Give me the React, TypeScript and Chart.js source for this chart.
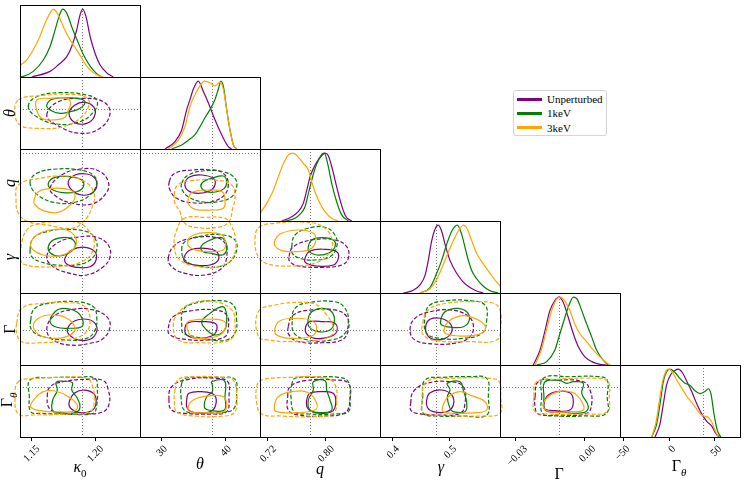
import React, { useEffect, useRef } from 'react';
import { Chart, registerables } from 'chart.js';

Chart.register(...registerables);

// ---------------- axes / parameters ----------------
const keys = ['k', 't', 'q', 'g', 'G', 'T'];
const axisMin = [1.1411, 26.6, 0.7094, 0.3778, -0.0369, -53.6];
const axisMax = [1.2353, 45.36, 0.8749, 0.5873, 0.0158, 77.3];
const truthX = [1.1896, 37.8, 0.778, 0.4756, -0.0108, 36.7];
const truthY = [1.1896, 37.0, 0.8657, 0.4817, -0.0112, 36.8];
const tickVals = [[1.15, 1.2], [30, 40], [0.72, 0.8], [0.4, 0.5], [-0.03, 0.0], [-50, 0, 50]];
const tickText = [['1.15', '1.20'], ['30', '40'], ['0.72', '0.80'], ['0.4', '0.5'], ['\u22120.03', '0.00'], ['\u221250', '0', '50']];
const seriesNames = ['Unperturbed', '1keV', '3keV'];
const seriesColors = ['#800080', '#008000', '#FFA500'];

// ---------------- 1D marginals (value, relative density) ----------------
const mK_U = [1.1503,0, 1.1647,0.083, 1.1712,0.18, 1.1778,0.30, 1.1817,0.45, 1.1856,0.69, 1.1882,0.91, 1.1903,1.0, 1.1929,0.89, 1.1961,0.60, 1.2000,0.35, 1.2039,0.18, 1.2092,0.06, 1.2143,0];
const mK_A = [1.138,0, 1.1437,0.01, 1.1515,0.083, 1.1594,0.25, 1.1647,0.45, 1.1686,0.69, 1.1712,0.86, 1.1746,1.0, 1.1778,0.94, 1.1817,0.74, 1.1869,0.50, 1.1908,0.33, 1.1961,0.16, 1.2013,0.05, 1.2052,0];
const mK_B = [1.135,0.06, 1.1411,0.17, 1.1463,0.25, 1.1515,0.40, 1.1568,0.60, 1.1607,0.79, 1.1647,0.94, 1.1672,1.0, 1.1704,0.94, 1.1751,0.74, 1.1803,0.55, 1.1856,0.40, 1.1895,0.28, 1.1935,0.16, 1.1974,0.083, 1.2026,0.02, 1.2065,0];
const mT_U = [30.51,0, 32.07,0.11, 33.12,0.28, 33.90,0.58, 34.42,0.73, 34.93,0.88, 35.71,1.0, 36.49,0.85, 37.28,0.68, 38.32,0.43, 39.37,0.21, 40.40,0.035, 40.93,0];
const mT_A = [31.55,0, 33.12,0.06, 34.15,0.13, 35.20,0.21, 35.98,0.33, 36.76,0.46, 37.54,0.58, 38.32,0.73, 38.84,0.88, 39.26,1.0, 39.68,0.90, 40.15,0.58, 40.67,0.28, 41.19,0.06, 41.71,0];
const mT_B = [31.03,0, 32.59,0.13, 33.63,0.33, 34.42,0.63, 35.20,0.80, 35.98,0.93, 36.65,1.0, 37.54,0.975, 38.32,0.93, 39.15,0.985, 39.62,0.88, 40.15,0.58, 40.67,0.28, 41.19,0.06, 41.71,0];
const mQ_U = [0.7393,0, 0.7531,0.063, 0.7622,0.137, 0.7691,0.26, 0.7738,0.45, 0.7784,0.65, 0.7829,0.77, 0.7890,0.89, 0.7945,0.96, 0.7990,1.0, 0.8036,0.96, 0.8091,0.77, 0.8152,0.50, 0.8211,0.26, 0.8276,0.07, 0.8359,0];
const mQ_A = [0.7439,0, 0.7577,0.04, 0.7646,0.10, 0.7715,0.21, 0.7760,0.40, 0.7807,0.60, 0.7852,0.77, 0.7898,0.89, 0.7953,0.99, 0.7981,1.0, 0.8028,0.84, 0.8083,0.55, 0.8152,0.28, 0.8221,0.09, 0.8312,0];
const mQ_B = [0.700,0.05, 0.7108,0.137, 0.7186,0.26, 0.7278,0.45, 0.7346,0.65, 0.7415,0.84, 0.7484,0.97, 0.7553,1.0, 0.7622,0.94, 0.7691,0.85, 0.7760,0.75, 0.7829,0.50, 0.7898,0.31, 0.7990,0.137, 0.8083,0.04, 0.8174,0];
const mG_U = [0.4185,0, 0.4359,0.04, 0.4476,0.12, 0.4564,0.26, 0.4621,0.48, 0.4681,0.77, 0.4738,0.94, 0.4796,1.0, 0.4855,0.91, 0.4913,0.72, 0.5000,0.48, 0.5117,0.29, 0.5232,0.16, 0.5349,0.08, 0.5466,0.03, 0.5582,0];
const mG_A = [0.4476,0, 0.4651,0.08, 0.4768,0.29, 0.4855,0.48, 0.4943,0.72, 0.5030,0.91, 0.5128,1.0, 0.5205,0.86, 0.5292,0.57, 0.5379,0.33, 0.5466,0.21, 0.5582,0.10, 0.5699,0.034, 0.5843,0];
const mG_B = [0.4476,0, 0.4651,0.063, 0.4768,0.20, 0.4883,0.42, 0.5000,0.66, 0.5105,0.85, 0.5175,0.95, 0.5232,1.0, 0.5302,0.94, 0.5379,0.77, 0.5466,0.58, 0.5582,0.43, 0.5699,0.29, 0.5815,0.16, 0.5902,0.08, 0.599,0.02, 0.61,0];
const mGG_U = [-0.0223,0, -0.0193,0.22, -0.0171,0.51, -0.0150,0.80, -0.0128,0.95, -0.0110,1.0, -0.0091,0.92, -0.0069,0.70, -0.0047,0.46, -0.0025,0.27, 0.0004,0.12, 0.0034,0.05, 0.0070,0.01, 0.0099,0];
const mGG_A = [-0.0208,0, -0.0164,0.05, -0.0128,0.22, -0.0106,0.46, -0.0084,0.70, -0.0065,0.89, -0.0047,1.0, -0.0030,0.97, -0.0010,0.80, 0.0012,0.60, 0.0034,0.41, 0.0055,0.22, 0.0084,0.07, 0.0106,0];
const mGG_B = [-0.0215,0, -0.0186,0.24, -0.0164,0.53, -0.0142,0.80, -0.0120,0.97, -0.0103,1.0, -0.0084,0.94, -0.0062,0.80, -0.0040,0.60, -0.0018,0.46, 0.0012,0.34, 0.0041,0.22, 0.0070,0.12, 0.0099,0.034, 0.0117,0];
const mGT_U = [-15.4,0, -10.0,0.19, -6.4,0.48, -2.7,0.77, 1.7,0.92, 6.4,0.98, 10.0,1.0, 14.4,0.95, 19.2,0.82, 24.6,0.67, 30.1,0.49, 35.5,0.34, 41.0,0.23, 46.5,0.16, 51.1,0.05, 54.7,0];
const mGT_A = [-19.0,0, -13.6,0.19, -10.0,0.48, -6.4,0.81, -2.7,0.96, 0.9,1.0, 6.4,0.95, 11.9,0.86, 17.3,0.79, 22.8,0.76, 28.2,0.68, 33.7,0.64, 39.1,0.67, 42.7,0.71, 45.7,0.63, 48.9,0.34, 52.5,0.10, 56.3,0];
const mGT_B = [-19.0,0, -14.3,0.22, -10.7,0.53, -7.0,0.83, -3.4,0.97, -0.9,1.0, 2.8,0.97, 8.3,0.84, 13.7,0.72, 19.2,0.60, 24.6,0.51, 30.1,0.41, 33.7,0.34, 38.0,0.31, 42.7,0.29, 46.5,0.22, 50.0,0.10, 53.6,0];

// ---------------- 2D contours (x, y pairs); o = outer (dashed), i = inner (solid) ----------------
// row theta / col kappa0
const c_tk_Uo = [1.1621,35.46, 1.1712,38.92, 1.1908,39.81, 1.2065,38.92, 1.2118,35.90, 1.2039,31.99, 1.1882,30.69, 1.1699,32.85];
const c_tk_Ui = [1.1796,35.90, 1.1843,38.06, 1.1921,38.77, 1.1992,37.46, 1.1994,35.01, 1.1935,33.29, 1.1843,33.45];
const c_tk_Ao = [1.1476,37.62, 1.1542,40.23, 1.1725,41.27, 1.1935,40.67, 1.2013,39.37, 1.2000,36.76, 1.1882,33.71, 1.1699,33.11, 1.1542,35.01];
const c_tk_Ai = [1.1621,38.06, 1.1672,39.63, 1.1856,39.81, 1.1921,38.92, 1.1882,37.20, 1.1804,36.32, 1.1725,35.90, 1.1647,36.76];
const c_tk_Bo = [1.1398,39.37, 1.1568,40.49, 1.1778,40.85, 1.1921,40.23, 1.1955,38.51, 1.1895,35.01, 1.1751,32.41, 1.1542,31.99, 1.1411,32.85, 1.1372,35.90];
const c_tk_Bi = [1.1542,39.37, 1.1647,39.81, 1.1778,39.81, 1.1809,38.51, 1.1790,36.76, 1.1764,34.87, 1.1672,34.17, 1.1581,34.60, 1.1542,36.76];
// row q / col kappa0
const c_qk_Uo = [1.1647,0.7845, 1.1738,0.8151, 1.1882,0.8289, 1.2026,0.8250, 1.2104,0.7997, 1.2086,0.7731, 1.1974,0.7485, 1.1804,0.7515, 1.1699,0.7652];
const c_qk_Ui = [1.1790,0.7997, 1.1843,0.8151, 1.1935,0.8174, 1.2000,0.8075, 1.2013,0.7882, 1.1974,0.7731, 1.1895,0.7691, 1.1817,0.7806];
const c_qk_Ao = [1.1490,0.7960, 1.1542,0.8190, 1.1699,0.8289, 1.1882,0.8266, 1.1986,0.8151, 1.2013,0.7960, 1.1961,0.7691, 1.1856,0.7537, 1.1725,0.7501, 1.1568,0.7652];
const c_qk_Ai = [1.1633,0.7960, 1.1686,0.8098, 1.1804,0.8112, 1.1895,0.8036, 1.1908,0.7882, 1.1856,0.7767, 1.1751,0.7744, 1.1660,0.7823];
const c_qk_Bo = [1.1398,0.7921, 1.1568,0.8075, 1.1778,0.8128, 1.1921,0.7997, 1.1992,0.7731, 1.1974,0.7386, 1.1908,0.7078, 1.1817,0.6926, 1.1621,0.7002, 1.1476,0.7078, 1.1398,0.7271, 1.1380,0.7576];
const c_qk_Bi = [1.1521,0.7576, 1.1555,0.7767, 1.1672,0.7845, 1.1804,0.7806, 1.1843,0.7652, 1.1790,0.7422, 1.1699,0.7285, 1.1594,0.7331, 1.1529,0.7462];
// row gamma / col kappa0
const c_gk_Uo = [1.1621,0.4834, 1.1699,0.5224, 1.1856,0.5399, 1.2013,0.5399, 1.2104,0.5175, 1.2118,0.4834, 1.2065,0.4543, 1.1935,0.4302, 1.1804,0.4351, 1.1672,0.4543];
const c_gk_Ui = [1.1764,0.4788, 1.1817,0.5029, 1.1921,0.5108, 1.1998,0.4980, 1.2008,0.4738, 1.1961,0.4543, 1.1856,0.4526, 1.1778,0.4622];
const c_gk_Ao = [1.1490,0.5029, 1.1515,0.5370, 1.1621,0.5562, 1.1778,0.5631, 1.1935,0.5562, 1.2000,0.5370, 1.2013,0.5029, 1.1961,0.4738, 1.1856,0.4593, 1.1699,0.4593, 1.1568,0.4689, 1.1503,0.4834];
const c_gk_Ai = [1.1633,0.5125, 1.1672,0.5320, 1.1764,0.5399, 1.1829,0.5320, 1.1843,0.5125, 1.1790,0.4933, 1.1712,0.4855, 1.1647,0.4951];
const c_gk_Bo = [1.1416,0.4738, 1.1424,0.5224, 1.1464,0.5611, 1.1542,0.5786, 1.1699,0.5853, 1.1869,0.5824, 1.1947,0.5611, 1.1992,0.5320, 1.1974,0.4933, 1.1895,0.4689, 1.1751,0.4564, 1.1542,0.4543, 1.1437,0.4622];
const c_gk_Bi = [1.1495,0.5224, 1.1542,0.5466, 1.1647,0.5611, 1.1778,0.5611, 1.1843,0.5416, 1.1851,0.5175, 1.1804,0.4980, 1.1712,0.4855, 1.1594,0.4884, 1.1515,0.5029];
// row Gamma / col kappa0
const c_Gk_Uo = [1.1621,-0.0113, 1.1672,-0.0015, 1.1829,0.0039, 1.1986,0.0034, 1.2092,-0.0015, 1.2118,-0.0089, 1.2065,-0.0174, 1.1961,-0.0210, 1.1804,-0.0223, 1.1672,-0.0186];
const c_Gk_Ui = [1.1785,-0.0100, 1.1843,-0.0045, 1.1935,-0.0034, 1.2000,-0.0064, 1.2013,-0.0125, 1.1961,-0.0181, 1.1869,-0.0186, 1.1798,-0.0149];
const c_Gk_Ao = [1.1495,-0.0040, 1.1529,0.0046, 1.1672,0.0087, 1.1856,0.0094, 1.1986,0.0058, 1.2013,-0.0015, 1.2000,-0.0113, 1.1935,-0.0174, 1.1778,-0.0186, 1.1594,-0.0162, 1.1503,-0.0113];
const c_Gk_Ai = [1.1647,-0.0052, 1.1686,0.0021, 1.1751,0.0046, 1.1856,0.0021, 1.1903,-0.0040, 1.1895,-0.0089, 1.1804,-0.0100, 1.1699,-0.0093];
const c_Gk_Bo = [1.1385,-0.0064, 1.1424,0.0046, 1.1594,0.0083, 1.1804,0.0087, 1.1921,0.0058, 1.1961,-0.0040, 1.1921,-0.0137, 1.1778,-0.0186, 1.1568,-0.0206, 1.1424,-0.0198, 1.1385,-0.0137];
const c_Gk_Bi = [1.1515,-0.0089, 1.1555,-0.0027, 1.1647,-0.0003, 1.1778,-0.0027, 1.1843,-0.0100, 1.1804,-0.0149, 1.1699,-0.0174, 1.1581,-0.0157];
// row Gamma_theta / col kappa0
const c_Tk_Uo = [1.1625,19.7, 1.1647,37.8, 1.1751,46.9, 1.1935,51.3, 1.2065,48.8, 1.2104,31.8, 1.2112,7.7, 1.2065,-7.6, 1.1908,-11.8, 1.1725,-10.5, 1.1641,-1.4];
const c_Tk_Ui = [1.1798,10.6, 1.1843,26.9, 1.1921,31.8, 1.1992,24.6, 1.2008,7.7, 1.1974,-5.8, 1.1882,-9.4, 1.1809,-1.4];
const c_Tk_Ao = [1.1490,50.0, 1.1647,54.2, 1.1856,54.9, 1.2000,53.1, 1.2018,31.8, 1.2013,4.6, 1.1986,-10.5, 1.1778,-11.8, 1.1568,-10.5, 1.1495,-7.6, 1.1484,19.7];
const c_Tk_Ai = [1.1694,45.8, 1.1756,47.7, 1.1822,45.1, 1.1817,31.8, 1.1861,16.8, 1.1882,0.4, 1.1843,-9.4, 1.1751,-9.4, 1.1668,-5.8, 1.1668,13.7, 1.1704,31.8];
const c_Tk_Bo = [1.1398,46.9, 1.1515,52.4, 1.1725,54.9, 1.1935,53.1, 1.1982,37.8, 1.1992,7.7, 1.1961,-7.6, 1.1778,-11.8, 1.1515,-13.6, 1.1398,-11.8, 1.1372,19.7];
const c_Tk_Bi = [1.1495,1.5, 1.1529,16.8, 1.1594,28.8, 1.1686,30.0, 1.1790,19.7, 1.1861,4.6, 1.1843,-5.8, 1.1725,-8.1, 1.1568,-5.8];
// row q / col theta
const c_qt_Uo = [31.18,0.7997, 32.07,0.8190, 34.68,0.8266, 37.81,0.8266, 39.62,0.8190, 40.40,0.7960, 39.78,0.7691, 37.81,0.7537, 34.68,0.7515, 32.34,0.7616, 31.29,0.7806];
const c_qt_Ui = [33.63,0.7960, 34.42,0.8112, 36.24,0.8151, 38.06,0.8075, 38.32,0.7921, 37.54,0.7790, 35.71,0.7731, 34.15,0.7790];
const c_qt_Ao = [33.12,0.7960, 34.15,0.8151, 36.76,0.8250, 39.62,0.8227, 41.45,0.8075, 41.71,0.7882, 40.93,0.7652, 38.84,0.7537, 36.24,0.7537, 34.15,0.7652, 33.21,0.7806];
const c_qt_Ai = [36.13,0.7882, 36.49,0.7997, 37.81,0.8075, 39.62,0.8128, 40.15,0.7997, 39.78,0.7845, 38.59,0.7767, 37.03,0.7767];
const c_qt_Bo = [31.96,0.7691, 32.49,0.7921, 34.68,0.8020, 38.32,0.8036, 40.93,0.7921, 41.45,0.7652, 41.03,0.7347, 40.51,0.7078, 38.84,0.6949, 35.20,0.6949, 33.52,0.7055, 32.85,0.7308, 32.07,0.7501];
const c_qt_Bi = [34.15,0.7616, 34.93,0.7767, 37.28,0.7806, 39.46,0.7767, 39.89,0.7576, 39.62,0.7386, 37.81,0.7347, 35.20,0.7363, 34.26,0.7462];
// row gamma / col theta
const c_gt_Uo = [31.02,0.4788, 32.07,0.5175, 34.68,0.5370, 38.32,0.5399, 39.89,0.5224, 40.15,0.4834, 39.37,0.4497, 36.76,0.4302, 33.63,0.4351, 31.55,0.4543];
const c_gt_Ui = [33.52,0.4834, 34.42,0.5029, 36.76,0.5079, 38.59,0.4980, 38.84,0.4738, 37.54,0.4593, 35.20,0.4593, 33.63,0.4689];
const c_gt_Ao = [33.12,0.5029, 33.63,0.5271, 36.24,0.5437, 39.62,0.5466, 41.45,0.5320, 41.71,0.5029, 40.67,0.4689, 38.84,0.4543, 35.71,0.4564, 33.63,0.4738];
const c_gt_Ai = [36.13,0.5125, 37.03,0.5271, 39.10,0.5399, 39.99,0.5271, 40.15,0.5029, 39.46,0.4884, 37.81,0.4933, 36.49,0.4980];
const c_gt_Bo = [33.52,0.5952, 32.34,0.5611, 31.96,0.5125, 32.85,0.4738, 35.71,0.4543, 39.37,0.4564, 41.18,0.4834, 41.56,0.5320, 40.82,0.5757, 39.89,0.5952, 36.76,0.5981];
const c_gt_Bi = [34.15,0.5320, 34.93,0.5466, 37.03,0.5533, 39.37,0.5466, 39.99,0.5224, 39.62,0.5029, 37.81,0.4980, 35.71,0.5009, 34.26,0.5125];
// row Gamma / col theta
const c_Gt_Uo = [31.02,-0.0100, 31.80,-0.0015, 34.68,0.0028, 38.32,0.0034, 40.15,-0.0003, 40.40,-0.0100, 39.89,-0.0162, 37.28,-0.0186, 33.63,-0.0181, 31.29,-0.0149];
const c_Gt_Ui = [33.63,-0.0100, 34.15,-0.0059, 36.24,-0.0052, 38.32,-0.0064, 38.59,-0.0113, 37.81,-0.0157, 35.71,-0.0174, 33.90,-0.0149];
const c_Gt_Ao = [33.12,-0.0089, 33.37,0.0034, 35.20,0.0083, 39.10,0.0102, 41.18,0.0070, 41.71,-0.0040, 41.45,-0.0137, 40.15,-0.0186, 37.81,-0.0186, 35.20,-0.0162, 33.37,-0.0137];
const c_Gt_Ai = [36.24,-0.0052, 37.54,0.0009, 39.37,0.0058, 39.99,0.0034, 40.15,-0.0064, 39.62,-0.0125, 38.32,-0.0149, 37.03,-0.0113];
const c_Gt_Bo = [31.80,-0.0089, 32.34,-0.0003, 34.68,0.0083, 38.32,0.0094, 40.93,0.0034, 41.45,-0.0064, 41.18,-0.0162, 39.89,-0.0198, 36.24,-0.0206, 32.59,-0.0186];
const c_Gt_Bi = [33.90,-0.0076, 34.42,-0.0045, 37.28,-0.0034, 39.62,-0.0045, 39.99,-0.0089, 39.10,-0.0149, 36.76,-0.0174, 34.68,-0.0162];
// row Gamma_theta / col theta
const c_Tt_Uo = [31.13,13.7, 31.55,37.8, 34.15,51.3, 38.32,53.1, 40.31,46.9, 40.51,19.7, 40.15,-7.6, 37.81,-11.8, 33.63,-10.5, 31.55,-4.5];
const c_Tt_Ui = [33.90,13.7, 34.26,25.9, 36.24,28.8, 38.21,22.8, 38.43,4.6, 37.54,-7.6, 35.20,-9.4, 34.00,-1.4];
const c_Tt_Ao = [33.12,44.0, 33.63,53.1, 36.24,54.9, 39.37,54.9, 41.45,51.3, 41.71,25.9, 41.45,1.5, 40.40,-7.6, 36.24,-9.4, 33.63,-5.8, 33.01,19.7];
const c_Tt_Ai = [37.81,46.9, 39.78,48.8, 39.89,19.7, 39.78,-4.5, 37.28,-4.5, 36.65,1.5, 37.03,19.7, 37.90,28.8, 37.90,40.9];
const c_Tt_Bo = [32.07,31.8, 32.59,51.3, 35.20,56.0, 39.37,54.9, 41.18,50.0, 41.71,19.7, 41.45,-7.6, 39.89,-15.4, 35.20,-15.4, 32.34,-7.6, 31.96,13.7];
const c_Tt_Bi = [34.15,1.5, 34.93,13.7, 37.28,21.0, 39.62,19.7, 40.15,4.6, 39.62,-7.6, 36.76,-9.4, 34.42,-7.6];
// row gamma / col q
const c_gq_Uo = [0.7494,0.4834, 0.7553,0.5125, 0.7807,0.5320, 0.8128,0.5320, 0.8290,0.5125, 0.8312,0.4788, 0.8221,0.4593, 0.7945,0.4526, 0.7622,0.4564, 0.7508,0.4689];
const c_gq_Ui = [0.7715,0.4788, 0.7784,0.5000, 0.7990,0.5049, 0.8152,0.4980, 0.8174,0.4788, 0.8105,0.4593, 0.7876,0.4564, 0.7724,0.4660];
const c_gq_Ao = [0.7531,0.5125, 0.7577,0.5466, 0.7760,0.5661, 0.7990,0.5690, 0.8128,0.5466, 0.8152,0.5125, 0.8059,0.4834, 0.7852,0.4738, 0.7646,0.4788, 0.7539,0.4933];
const c_gq_Ai = [0.7760,0.5125, 0.7807,0.5320, 0.7945,0.5388, 0.8105,0.5320, 0.8128,0.5125, 0.8036,0.4933, 0.7876,0.4884, 0.7770,0.4980];
const c_gq_Bo = [0.7080,0.5690, 0.7301,0.5806, 0.7669,0.5844, 0.7945,0.5727, 0.8083,0.5370, 0.8059,0.4980, 0.7876,0.4660, 0.7531,0.4564, 0.7208,0.4622, 0.7071,0.4834, 0.7025,0.5320];
const c_gq_Bi = [0.7301,0.5320, 0.7393,0.5515, 0.7622,0.5611, 0.7829,0.5515, 0.7862,0.5271, 0.7784,0.5049, 0.7577,0.4980, 0.7393,0.5009, 0.7301,0.5146];
// row Gamma / col q
const c_Gq_Uo = [0.7484,-0.0089, 0.7553,-0.0003, 0.7807,0.0034, 0.8128,0.0034, 0.8290,-0.0015, 0.8312,-0.0113, 0.8221,-0.0186, 0.7945,-0.0206, 0.7622,-0.0198, 0.7494,-0.0149];
const c_Gq_Ui = [0.7724,-0.0089, 0.7784,-0.0052, 0.7967,-0.0052, 0.8128,-0.0064, 0.8152,-0.0125, 0.8059,-0.0162, 0.7852,-0.0174, 0.7738,-0.0142];
const c_Gq_Ao = [0.7539,-0.0040, 0.7577,0.0046, 0.7760,0.0087, 0.8128,0.0094, 0.8266,0.0046, 0.8312,-0.0040, 0.8266,-0.0137, 0.8083,-0.0186, 0.7760,-0.0186, 0.7567,-0.0137];
const c_Gq_Ai = [0.7760,-0.0027, 0.7807,0.0021, 0.7945,0.0046, 0.8083,0.0021, 0.8119,-0.0052, 0.8059,-0.0113, 0.7898,-0.0125, 0.7770,-0.0089];
const c_Gq_Bo = [0.7071,0.0021, 0.7301,0.0070, 0.7669,0.0090, 0.7876,0.0070, 0.8014,-0.0003, 0.8105,-0.0089, 0.8083,-0.0149, 0.7898,-0.0186, 0.7531,-0.0198, 0.7208,-0.0186, 0.7071,-0.0162];
const c_Gq_Bi = [0.7301,-0.0100, 0.7370,-0.0045, 0.7577,-0.0027, 0.7807,-0.0045, 0.7876,-0.0100, 0.7807,-0.0157, 0.7531,-0.0174, 0.7324,-0.0149];
// row Gamma_theta / col q
const c_Tq_Uo = [0.7476,19.7, 0.7508,37.8, 0.7715,48.8, 0.8128,50.0, 0.8312,44.0, 0.8335,13.7, 0.8266,-9.4, 0.7945,-15.4, 0.7622,-13.6, 0.7484,-4.5];
const c_Tq_Ui = [0.7738,13.7, 0.7784,25.9, 0.7945,28.8, 0.8105,25.9, 0.8138,7.7, 0.8083,-7.6, 0.7852,-9.4, 0.7752,-1.4];
const c_Tq_Ao = [0.7531,40.9, 0.7577,53.1, 0.7807,54.9, 0.8174,54.9, 0.8312,46.9, 0.8335,13.7, 0.8312,-7.6, 0.8128,-11.8, 0.7760,-11.8, 0.7567,-7.6, 0.7521,19.7];
const c_Tq_Ai = [0.7829,46.9, 0.7990,48.8, 0.8014,31.8, 0.8059,13.7, 0.8083,-4.5, 0.7945,-9.4, 0.7784,-4.5, 0.7760,13.7, 0.7829,31.8];
const c_Tq_Bo = [0.7049,37.8, 0.7117,50.0, 0.7531,54.9, 0.7945,54.9, 0.8119,44.0, 0.8152,13.7, 0.8105,-10.5, 0.7852,-16.7, 0.7393,-15.4, 0.7117,-11.8, 0.7049,7.7];
const c_Tq_Bi = [0.7291,1.5, 0.7346,19.7, 0.7531,28.8, 0.7760,26.9, 0.7876,7.7, 0.7852,-4.5, 0.7577,-9.4, 0.7324,-7.6];
// row Gamma / col gamma
const c_Gg_Uo = [0.4302,-0.0113, 0.4389,-0.0027, 0.4651,0.0021, 0.5000,0.0034, 0.5292,-0.0003, 0.5407,-0.0076, 0.5349,-0.0162, 0.5117,-0.0206, 0.4709,-0.0215, 0.4389,-0.0186];
const c_Gg_Ui = [0.4581,-0.0076, 0.4651,-0.0034, 0.4826,-0.0027, 0.5000,-0.0064, 0.5030,-0.0125, 0.4913,-0.0174, 0.4709,-0.0181, 0.4593,-0.0142];
const c_Gg_Ao = [0.4564,-0.0015, 0.4651,0.0070, 0.4943,0.0102, 0.5349,0.0102, 0.5611,0.0070, 0.5641,-0.0040, 0.5554,-0.0137, 0.5232,-0.0174, 0.4826,-0.0174, 0.4593,-0.0137];
const c_Gg_Ai = [0.4838,-0.0040, 0.4913,0.0021, 0.5117,0.0046, 0.5292,0.0021, 0.5337,-0.0040, 0.5232,-0.0089, 0.5030,-0.0093, 0.4855,-0.0076];
const c_Gg_Bo = [0.4524,-0.0064, 0.4621,0.0034, 0.4943,0.0083, 0.5466,0.0094, 0.5756,0.0083, 0.5873,0.0034, 0.5885,-0.0089, 0.5815,-0.0186, 0.5349,-0.0198, 0.4768,-0.0191, 0.4534,-0.0149];
const c_Gg_Bi = [0.4895,-0.0113, 0.4971,-0.0052, 0.5175,-0.0010, 0.5349,-0.0015, 0.5582,-0.0064, 0.5611,-0.0113, 0.5466,-0.0149, 0.5175,-0.0157, 0.4943,-0.0142];
// row Gamma_theta / col gamma
const c_Tg_Uo = [0.4314,7.7, 0.4359,28.8, 0.4593,44.0, 0.5000,46.9, 0.5232,37.8, 0.5262,7.7, 0.5175,-10.5, 0.4768,-13.6, 0.4419,-10.5, 0.4314,-4.5];
const c_Tg_Ui = [0.4593,13.7, 0.4651,26.9, 0.4855,31.8, 0.5030,22.8, 0.5058,4.6, 0.4943,-7.6, 0.4709,-7.6, 0.4604,0.4];
const c_Tg_Ao = [0.4524,19.7, 0.4564,50.0, 0.4883,54.9, 0.5349,56.0, 0.5641,53.1, 0.5669,19.7, 0.5641,-13.6, 0.5232,-15.4, 0.4768,-15.4, 0.4534,-10.5];
const c_Tg_Ai = [0.4953,44.0, 0.5175,46.9, 0.5232,31.8, 0.5292,7.7, 0.5262,-7.6, 0.5058,-7.6, 0.5000,-1.6, 0.4953,19.7, 0.5000,31.8];
const c_Tg_Bo = [0.4506,7.7, 0.4593,46.9, 0.5058,53.1, 0.5699,53.1, 0.5861,46.9, 0.5885,19.7, 0.5873,-10.5, 0.5524,-15.4, 0.4883,-14.1, 0.4534,-9.4];
const c_Tg_Bi = [0.4873,1.5, 0.4971,19.7, 0.5175,28.8, 0.5349,22.8, 0.5611,10.6, 0.5641,-4.5, 0.5466,-9.4, 0.5058,-10.5, 0.4883,-7.6];
// row Gamma_theta / col Gamma
const c_TG_Uo = [-0.0215,19.7, -0.0201,46.9, -0.0120,50.0, -0.0003,46.9, 0.0026,31.8, 0.0034,7.7, 0.0012,-10.5, -0.0106,-13.6, -0.0201,-11.8, -0.0215,1.5];
const c_TG_Ui = [-0.0176,4.6, -0.0164,19.7, -0.0120,28.8, -0.0062,26.9, -0.0047,10.6, -0.0062,-4.5, -0.0128,-5.8, -0.0171,-3.2];
const c_TG_Ao = [-0.0186,19.7, -0.0179,53.1, -0.0062,56.0, 0.0070,56.0, 0.0102,50.0, 0.0102,19.7, 0.0099,-10.5, -0.0003,-15.4, -0.0120,-15.4, -0.0182,-10.5];
const c_TG_Ai = [-0.0176,19.7, -0.0171,46.9, -0.0106,48.8, -0.0076,44.0, -0.0047,46.9, -0.0003,44.0, -0.0010,25.9, 0.0019,1.5, -0.0003,-9.4, -0.0106,-8.1, -0.0171,-4.5];
const c_TG_Bo = [-0.0220,19.7, -0.0208,46.9, -0.0120,51.3, 0.0055,53.1, 0.0106,46.9, 0.0111,19.7, 0.0102,-7.6, -0.0003,-11.8, -0.0150,-11.8, -0.0215,-7.6];
const c_TG_Bi = [-0.0179,1.5, -0.0164,16.8, -0.0113,28.8, -0.0047,26.9, -0.0010,10.6, -0.0003,-4.5, -0.0062,-7.6, -0.0150,-7.6];

// ---------------- lookup tables built from the arrays above ----------------
const marginals: Record<string, number[][]> = {
  k: [mK_U, mK_A, mK_B], t: [mT_U, mT_A, mT_B], q: [mQ_U, mQ_A, mQ_B],
  g: [mG_U, mG_A, mG_B], G: [mGG_U, mGG_A, mGG_B], T: [mGT_U, mGT_A, mGT_B],
};
const contours: Record<string, number[][]> = {
  tk: [c_tk_Uo, c_tk_Ui, c_tk_Ao, c_tk_Ai, c_tk_Bo, c_tk_Bi],
  qk: [c_qk_Uo, c_qk_Ui, c_qk_Ao, c_qk_Ai, c_qk_Bo, c_qk_Bi],
  gk: [c_gk_Uo, c_gk_Ui, c_gk_Ao, c_gk_Ai, c_gk_Bo, c_gk_Bi],
  Gk: [c_Gk_Uo, c_Gk_Ui, c_Gk_Ao, c_Gk_Ai, c_Gk_Bo, c_Gk_Bi],
  Tk: [c_Tk_Uo, c_Tk_Ui, c_Tk_Ao, c_Tk_Ai, c_Tk_Bo, c_Tk_Bi],
  qt: [c_qt_Uo, c_qt_Ui, c_qt_Ao, c_qt_Ai, c_qt_Bo, c_qt_Bi],
  gt: [c_gt_Uo, c_gt_Ui, c_gt_Ao, c_gt_Ai, c_gt_Bo, c_gt_Bi],
  Gt: [c_Gt_Uo, c_Gt_Ui, c_Gt_Ao, c_Gt_Ai, c_Gt_Bo, c_Gt_Bi],
  Tt: [c_Tt_Uo, c_Tt_Ui, c_Tt_Ao, c_Tt_Ai, c_Tt_Bo, c_Tt_Bi],
  gq: [c_gq_Uo, c_gq_Ui, c_gq_Ao, c_gq_Ai, c_gq_Bo, c_gq_Bi],
  Gq: [c_Gq_Uo, c_Gq_Ui, c_Gq_Ao, c_Gq_Ai, c_Gq_Bo, c_Gq_Bi],
  Tq: [c_Tq_Uo, c_Tq_Ui, c_Tq_Ao, c_Tq_Ai, c_Tq_Bo, c_Tq_Bi],
  Gg: [c_Gg_Uo, c_Gg_Ui, c_Gg_Ao, c_Gg_Ai, c_Gg_Bo, c_Gg_Bi],
  Tg: [c_Tg_Uo, c_Tg_Ui, c_Tg_Ao, c_Tg_Ai, c_Tg_Bo, c_Tg_Bi],
  TG: [c_TG_Uo, c_TG_Ui, c_TG_Ao, c_TG_Ai, c_TG_Bo, c_TG_Bi],
};

// ---------------- layout (page pixels) ----------------
const LEFT = 20, TOP = 5, PW = 120, PH = 72, M = 14, AXH = 42;
const labelOffsets = [7, 4, 7, 5, 10, 5];
const SERIF = "'Liberation Serif', 'DejaVu Serif', serif";

function toPts(a: number[]) {
  const out: { x: number; y: number }[] = [];
  for (let i = 0; i < a.length; i += 2) out.push({ x: a[i], y: a[i + 1] });
  return out;
}

const loopPlugin = {
  id: 'closedLoops',
  beforeDatasetsDraw(chart: any) {
    chart.data.datasets.forEach((ds: any, i: number) => {
      if (!ds.loop) return;
      const line = chart.getDatasetMeta(i).dataset;
      if (!line) return;
      line._loop = true;
      line._fullLoop = true;
      line._segments = undefined;
      line._path = undefined;
      line._pointsUpdated = false;
      line.updateControlPoints(chart.chartArea, 'x');
    });
  },
};

const framePlugin = {
  id: 'panelFrame',
  afterDatasetsDraw(chart: any) {
    const { ctx, chartArea: a } = chart;
    ctx.save();
    ctx.strokeStyle = '#000';
    ctx.lineWidth = 1;
    ctx.setLineDash([]);
    ctx.strokeRect(Math.round(a.left) + 0.5, Math.round(a.top) + 0.5, Math.round(a.right - a.left), Math.round(a.bottom - a.top));
    ctx.restore();
  },
};

function makeTruthPlugin(r: number, c: number) {
  return {
    id: 'truthLines',
    beforeDatasetsDraw(chart: any) {
      const { ctx, chartArea: a, scales } = chart;
      ctx.save();
      ctx.strokeStyle = '#7a7a7a';
      ctx.lineWidth = 1;
      ctx.setLineDash([1, 2]);
      const x = Math.round(scales.x.getPixelForValue(truthX[c])) + 0.5;
      ctx.beginPath();
      ctx.moveTo(x, a.top);
      ctx.lineTo(x, a.bottom);
      ctx.stroke();
      if (r !== c) {
        const y = Math.round(scales.y.getPixelForValue(truthY[r])) + 0.5;
        ctx.beginPath();
        ctx.moveTo(a.left, y);
        ctx.lineTo(a.right, y);
        ctx.stroke();
      }
      ctx.restore();
    },
  };
}

function buildDatasets(r: number, c: number) {
  if (r === c) {
    return marginals[keys[c]].map((arr, s) => ({
      data: toPts(arr),
      borderColor: seriesColors[s],
      borderWidth: 1.2,
      pointRadius: 0,
      cubicInterpolationMode: 'monotone',
      fill: false,
      order: 2 - s,
    }));
  }
  return contours[keys[r] + keys[c]].map((arr, j) => {
    const s = Math.floor(j / 2);
    const outer = j % 2 === 0;
    return {
      data: toPts(arr),
      borderColor: seriesColors[s],
      borderWidth: 1.2,
      borderDash: outer ? [4, 2] : [],
      pointRadius: 0,
      tension: 0.42,
      capBezierPoints: false,
      fill: false,
      clip: false,
      loop: true,
      order: 2 - s,
    };
  });
}

const panels: { r: number; c: number }[] = [];
for (let r = 0; r < 6; r++) for (let c = 0; c <= r; c++) panels.push({ r, c });

function canvasHeight(r: number) {
  return PH + M + (r === 5 ? AXH : M);
}

export default function App() {
  const refs = useRef<(HTMLCanvasElement | null)[]>([]);

  useEffect(() => {
    const charts = panels.map(({ r, c }, i) => {
      const canvas = refs.current[i] as HTMLCanvasElement;
      const bottom = r === 5;
      const cfg: any = {
        type: 'line',
        data: { datasets: buildDatasets(r, c) },
        options: {
          animation: false,
          responsive: false,
          maintainAspectRatio: false,
          events: [],
          layout: { padding: { left: M, right: M, top: M, bottom: bottom ? 0 : M } },
          plugins: { legend: { display: false }, tooltip: { enabled: false } },
          scales: {
            x: {
              type: 'linear',
              min: axisMin[c],
              max: axisMax[c],
              display: bottom,
              position: 'bottom',
              offset: false,
              border: { display: false },
              grid: { display: true, drawOnChartArea: false, drawTicks: true, tickLength: 4, color: '#000', lineWidth: 1 },
              afterBuildTicks: (axis: any) => {
                axis.ticks = tickVals[c].map((v) => ({ value: v }));
              },
              afterFit: (axis: any) => {
                if (bottom) axis.height = AXH;
              },
              ticks: {
                autoSkip: false,
                minRotation: 45,
                maxRotation: 45,
                padding: 2,
                labelOffset: labelOffsets[c],
                color: '#000',
                font: { family: SERIF, size: 10.5 },
                callback: (_v: any, idx: number) => tickText[c][idx],
              },
            },
            y: {
              type: 'linear',
              min: r === c ? 0 : axisMin[r],
              max: r === c ? 1.06 : axisMax[r],
              display: false,
            },
          },
        },
        plugins: [loopPlugin, makeTruthPlugin(r, c), framePlugin],
      };
      return new Chart(canvas, cfg);
    });
    return () => charts.forEach((ch) => ch.destroy());
  }, []);

  const xLabels: { html: React.ReactNode; x: number; y: number }[] = [
    { html: <span><i>κ</i><sub style={{ fontSize: 11, fontStyle: 'normal' }}>0</sub></span>, x: 80, y: 470 },
    { html: <i>θ</i>, x: 200, y: 464 },
    { html: <i>q</i>, x: 320, y: 469 },
    { html: <i>γ</i>, x: 441, y: 467 },
    { html: <span>Γ</span>, x: 559, y: 474 },
    { html: <span>Γ<sub style={{ fontSize: 11, fontStyle: 'italic' }}>θ</sub></span>, x: 679, y: 469 },
  ];
  const yLabels: { html: React.ReactNode; x: number; y: number }[] = [
    { html: <i>θ</i>, x: 10, y: 113 },
    { html: <i>q</i>, x: 10, y: 183 },
    { html: <i>γ</i>, x: 10, y: 257 },
    { html: <span>Γ</span>, x: 10, y: 329 },
    { html: <span>Γ<sub style={{ fontSize: 11, fontStyle: 'italic' }}>θ</sub></span>, x: 10, y: 400 },
  ];

  const labelStyle = (x: number, y: number, rot: boolean): React.CSSProperties => ({
    position: 'absolute',
    left: x,
    top: y,
    transform: rot ? 'translate(-50%, -50%) rotate(-90deg)' : 'translate(-50%, -50%)',
    fontFamily: SERIF,
    fontSize: 16,
    lineHeight: '16px',
    color: '#000',
    whiteSpace: 'nowrap',
  });

  return (
    <div style={{ position: 'absolute', left: 0, top: 0, width: 747, height: 489, background: '#fff', overflow: 'hidden' }}>
      {panels.map(({ r, c }, i) => (
        <canvas
          key={`${r}-${c}`}
          ref={(el) => {
            refs.current[i] = el;
          }}
          width={PW + 2 * M}
          height={canvasHeight(r)}
          style={{ position: 'absolute', left: LEFT + c * PW - M, top: TOP + r * PH - M, width: PW + 2 * M, height: canvasHeight(r) }}
        />
      ))}
      {xLabels.map((l, i) => (
        <div key={`xl${i}`} style={labelStyle(l.x, l.y, false)}>{l.html}</div>
      ))}
      {yLabels.map((l, i) => (
        <div key={`yl${i}`} style={labelStyle(l.x, l.y, true)}>{l.html}</div>
      ))}
      <div
        style={{
          position: 'absolute',
          left: 513,
          top: 90,
          width: 94,
          height: 46,
          boxSizing: 'border-box',
          border: '1px solid #d4d4d4',
          borderRadius: 3,
          background: '#fff',
        }}
      >
        {seriesNames.map((name, s) => (
          <div key={name} style={{ position: 'absolute', left: 0, top: 8 + s * 14.3 - 7, height: 14, width: 92 }}>
            <div style={{ position: 'absolute', left: 3, top: 5.5, width: 25, height: 3, background: seriesColors[s] }} />
            <div style={{ position: 'absolute', left: 33, top: 0, fontFamily: SERIF, fontSize: 11, lineHeight: '14px', color: '#000' }}>{name}</div>
          </div>
        ))}
      </div>
    </div>
  );
}
